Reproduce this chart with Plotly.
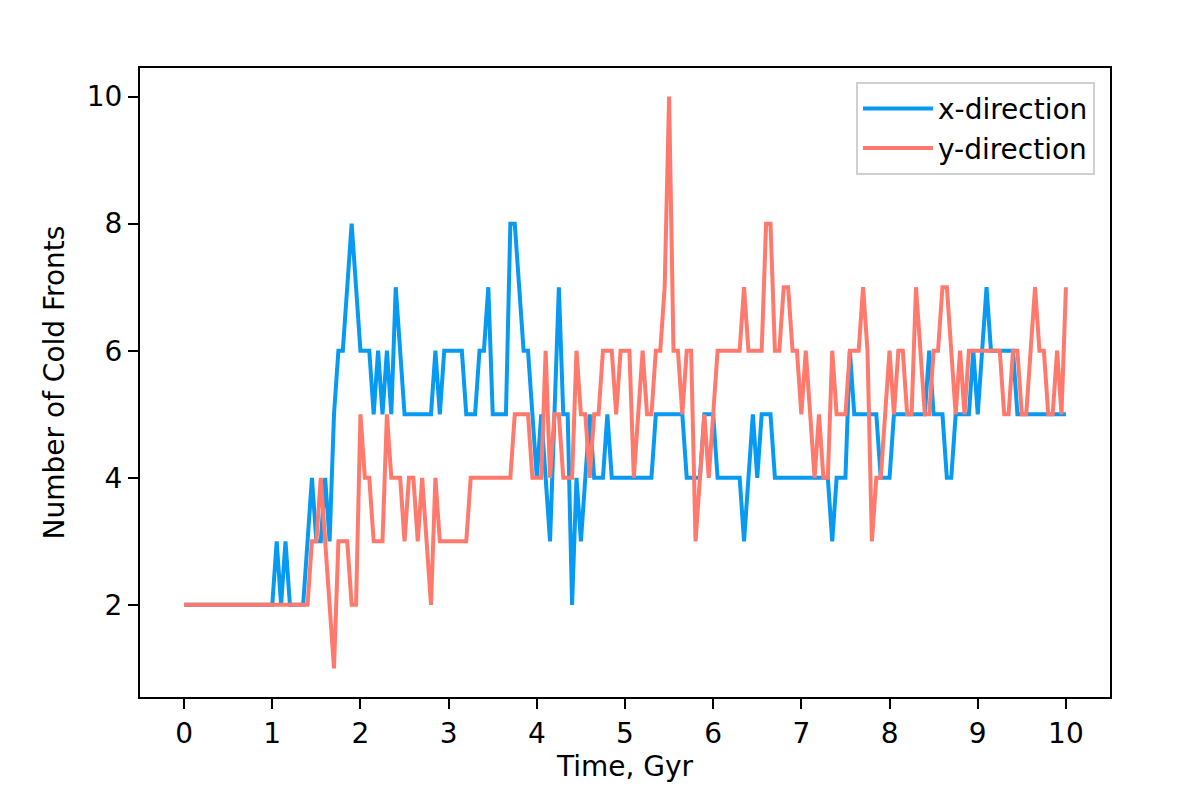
'''Cold front counts over time in the two directions.'''
import numpy as np
import plotly.graph_objects as go

##### data #####

# one sample every 0.05 Gyr, from 0 to 10 Gyr
time_gyr = np.linspace(0, 10, 201)

x_fronts = [
    2, 2, 2, 2, 2, 2, 2, 2, 2, 2,
    2, 2, 2, 2, 2, 2, 2, 2, 2, 2,
    2, 3, 2, 3, 2, 2, 2, 2, 3, 4,
    3, 3, 4, 3, 5, 6, 6, 7, 8, 7,
    6, 6, 6, 5, 6, 5, 6, 5, 7, 6,
    5, 5, 5, 5, 5, 5, 5, 6, 5, 6,
    6, 6, 6, 6, 5, 5, 5, 6, 6, 7,
    5, 5, 5, 5, 8, 8, 7, 6, 6, 5,
    4, 5, 4, 3, 5, 7, 5, 5, 2, 4,
    3, 4, 5, 4, 4, 4, 5, 4, 4, 4,
    4, 4, 4, 4, 4, 4, 4, 5, 5, 5,
    5, 5, 5, 5, 4, 4, 4, 4, 5, 5,
    5, 4, 4, 4, 4, 4, 4, 3, 4, 5,
    4, 5, 5, 5, 4, 4, 4, 4, 4, 4,
    4, 4, 4, 4, 4, 4, 4, 3, 4, 4,
    4, 6, 5, 5, 5, 5, 5, 5, 4, 4,
    4, 5, 5, 5, 5, 5, 5, 5, 5, 6,
    5, 5, 5, 4, 4, 5, 5, 5, 5, 6,
    5, 6, 7, 6, 6, 6, 6, 6, 6, 5,
    5, 5, 5, 5, 5, 5, 5, 5, 5, 5,
    5,
]

y_fronts = [
    2, 2, 2, 2, 2, 2, 2, 2, 2, 2,
    2, 2, 2, 2, 2, 2, 2, 2, 2, 2,
    2, 2, 2, 2, 2, 2, 2, 2, 2, 3,
    3, 4, 3, 2, 1, 3, 3, 3, 2, 2,
    5, 4, 4, 3, 3, 3, 5, 4, 4, 4,
    3, 4, 4, 3, 4, 3, 2, 4, 3, 3,
    3, 3, 3, 3, 3, 4, 4, 4, 4, 4,
    4, 4, 4, 4, 4, 5, 5, 5, 5, 4,
    4, 4, 6, 4, 5, 5, 4, 4, 4, 6,
    5, 5, 4, 5, 5, 6, 6, 6, 5, 6,
    6, 6, 4, 5, 6, 5, 5, 6, 6, 7,
    10, 6, 6, 5, 6, 6, 3, 4, 5, 4,
    5, 6, 6, 6, 6, 6, 6, 7, 6, 6,
    6, 6, 8, 8, 6, 6, 7, 7, 6, 6,
    5, 6, 5, 4, 5, 4, 4, 6, 5, 5,
    5, 6, 6, 6, 7, 6, 3, 4, 4, 5,
    6, 5, 6, 6, 5, 5, 7, 6, 5, 5,
    6, 6, 7, 7, 6, 5, 6, 5, 6, 6,
    6, 6, 6, 6, 6, 6, 5, 5, 6, 6,
    5, 5, 6, 7, 6, 6, 5, 5, 6, 5,
    7,
]

x_ticks = list(range(0, 11))
y_ticks = [2, 4, 6, 8, 10]

##### plot #####

FONT = 'DejaVu Sans'
FSIZE = 28


def _axis(title, ticks, rng, standoff):
    return {
        'title': {'text': title, 'standoff': standoff,
                  'font': {'family': FONT, 'size': FSIZE, 'color': 'black'}},
        'range': rng,
        'tickvals': ticks,
        'ticks': 'outside',
        'ticklen': 10,
        'tickwidth': 2,
        'tickcolor': 'black',
        'tickfont': {'family': FONT, 'size': FSIZE, 'color': 'black'},
        'showline': True,
        'linecolor': 'black',
        'linewidth': 2,
        'mirror': True,
        'showgrid': False,
        'zeroline': False,
    }


def plot_cold_fronts():
    '''Plot number of cold fronts in x and y direction.'''
    fig = go.Figure(
        data=[
            go.Scatter(x=time_gyr, y=x_fronts, mode='lines', name='x-direction',
                       line={'color': '#069AF3', 'width': 4}),
            go.Scatter(x=time_gyr, y=y_fronts, mode='lines', name='y-direction',
                       line={'color': '#FF796C', 'width': 4}),
        ],
        layout={
            # page body has an 8px margin, so the figure is 8px smaller
            'width': 1188,
            'height': 791,
            'margin': {'l': 132, 'r': 86, 't': 60, 'b': 102},
            'paper_bgcolor': 'white',
            'plot_bgcolor': 'white',
            'xaxis': _axis('Time, Gyr', x_ticks, [-0.5, 10.5], 6),
            'yaxis': _axis('Number of Cold Fronts', y_ticks, [0.55, 10.45], 14),
            'legend': {
                'x': 0.9845, 'y': 0.978, 'xanchor': 'right', 'yanchor': 'top',
                'bordercolor': '#d0d0d0', 'borderwidth': 2,
                'bgcolor': 'rgba(255,255,255,0.8)',
                'itemwidth': 70,
                'font': {'family': FONT, 'size': FSIZE, 'color': 'black'},
            },
        },
    )
    fig.write_html('out.html')


if __name__ == '__main__':
    plot_cold_fronts()
